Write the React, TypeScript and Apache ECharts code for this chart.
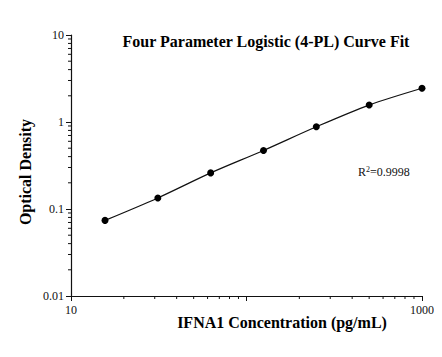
import { useEffect, useRef } from "react";
import * as echarts from "echarts";

const concentrations = [15.625, 31.25, 62.5, 125, 250, 500, 1000];
const opticalDensity = [0.074, 0.134, 0.26, 0.471, 0.881, 1.565, 2.44];
const xMinorTicks = [20, 30, 40, 50, 60, 70, 80, 90, 200, 300, 400, 500, 600, 700, 800, 900];
const yMinorTicks = [
  0.02, 0.03, 0.04, 0.05, 0.06, 0.07, 0.08, 0.09,
  0.2, 0.3, 0.4, 0.5, 0.6, 0.7, 0.8, 0.9,
  2, 3, 4, 5, 6, 7, 8, 9,
];
const xLabelled = [10, 1000];
const titleText = "Four Parameter Logistic (4-PL) Curve Fit";
const xName = "IFNA1 Concentration (pg/mL)";
const yName = "Optical Density";
const rSquared = "0.9998";

const FONT = "'Liberation Serif', 'Times New Roman', serif";
const INK = "#111";

export default function App() {
  const ref = useRef<HTMLDivElement>(null);
  useEffect(() => {
    if (!ref.current) return;
    const chart = echarts.init(ref.current, undefined, { renderer: "svg" });
    const fmt = (v: number) => String(Number(v.toPrecision(3)));
    chart.setOption({
      animation: false,
      backgroundColor: "#fff",
      grid: { left: 71, right: 20, top: 35, bottom: 61 },
      xAxis: {
        type: "log",
        logBase: 10,
        min: 10,
        max: 1000,
        axisLine: { show: true, lineStyle: { color: INK, width: 1.2 } },
        axisTick: { show: true, length: 5, lineStyle: { color: INK } },
        splitLine: { show: false },
        axisLabel: {
          margin: 8,
          fontFamily: FONT,
          fontSize: 12,
          color: INK,
          formatter: (v: number) => {
            const n = Number(v.toPrecision(3));
            return xLabelled.includes(n) ? String(n) : "";
          },
        },
      },
      yAxis: {
        type: "log",
        logBase: 10,
        min: 0.01,
        max: 10,
        axisLine: { show: true, lineStyle: { color: INK, width: 1.2 } },
        axisTick: { show: true, length: 5, lineStyle: { color: INK } },
        splitLine: { show: false },
        axisLabel: {
          margin: 7,
          fontFamily: FONT,
          fontSize: 12,
          color: INK,
          formatter: fmt,
        },
      },
      series: [
        {
          type: "line",
          data: concentrations.map((c, i) => [c, opticalDensity[i]]),
          smooth: 0.3,
          symbol: "circle",
          symbolSize: 7,
          lineStyle: { color: INK, width: 1.2 },
          itemStyle: { color: "#000" },
          z: 5,
        },
        {
          type: "custom",
          coordinateSystem: "cartesian2d",
          silent: true,
          clip: false,
          data: xMinorTicks.map((v) => [v, 0.01]),
          renderItem: (_p: any, api: any) => {
            const p = api.coord([api.value(0), api.value(1)]);
            return {
              type: "line",
              shape: { x1: p[0], y1: p[1], x2: p[0], y2: p[1] + 3 },
              style: { stroke: INK, lineWidth: 1 },
            };
          },
        },
        {
          type: "custom",
          coordinateSystem: "cartesian2d",
          silent: true,
          clip: false,
          data: yMinorTicks.map((v) => [10, v]),
          renderItem: (_p: any, api: any) => {
            const p = api.coord([api.value(0), api.value(1)]);
            return {
              type: "line",
              shape: { x1: p[0] - 3, y1: p[1], x2: p[0], y2: p[1] },
              style: { stroke: INK, lineWidth: 1 },
            };
          },
        },
      ],
      graphic: [
        {
          type: "text",
          x: 266,
          y: 41,
          style: {
            text: titleText,
            font: `bold 16px ${FONT}`,
            fill: "#000",
            textAlign: "center",
            textVerticalAlign: "middle",
          },
        },
        {
          type: "text",
          x: 282,
          y: 322,
          style: {
            text: xName,
            font: `bold 16px ${FONT}`,
            fill: "#000",
            textAlign: "center",
            textVerticalAlign: "middle",
          },
        },
        {
          type: "text",
          x: 25,
          y: 172,
          rotation: Math.PI / 2,
          style: {
            text: yName,
            font: `bold 16px ${FONT}`,
            fill: "#000",
            textAlign: "center",
            textVerticalAlign: "middle",
          },
        },
        {
          type: "text",
          x: 358,
          y: 172,
          style: {
            text: `{r|R}{s|2}{r|=${rSquared}}`,
            textVerticalAlign: "middle",
            rich: {
              r: { fontFamily: FONT, fontSize: 12, fill: "#111" },
              s: { fontFamily: FONT, fontSize: 8, fill: "#111", padding: [0, 0, 6, 0] },
            },
          },
        },
      ],
    });
    return () => chart.dispose();
  }, []);
  return <div ref={ref} style={{ width: 442, height: 357, margin: -8 }} />;
}
